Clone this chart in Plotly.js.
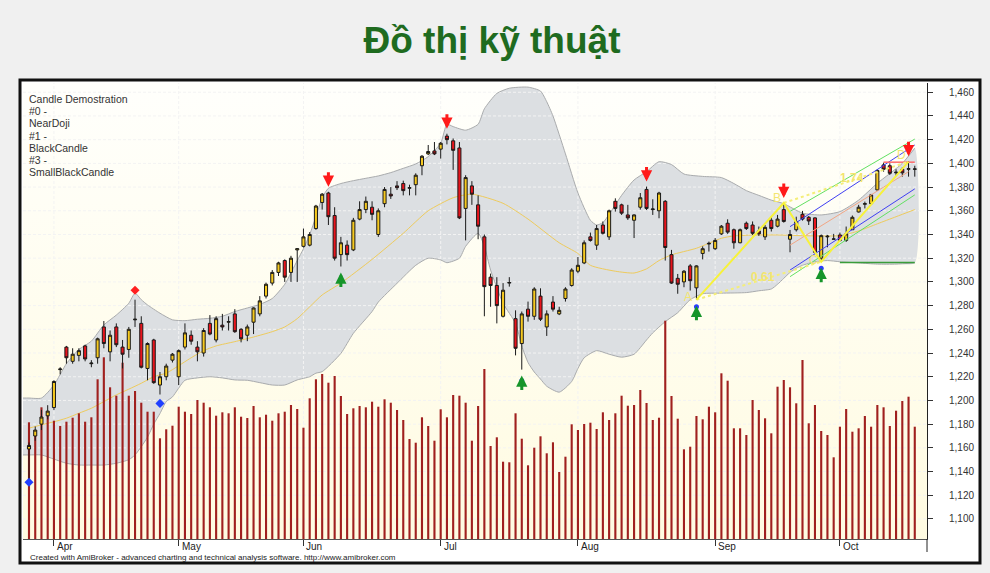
<!DOCTYPE html>
<html><head><meta charset="utf-8">
<script src="https://cdn.plot.ly/plotly-3.0.1.min.js"></script>
<style>html,body{margin:0;padding:0;background:#f0f0f0;}#chart{width:990px;height:573px;}</style>
</head><body><div id="chart"></div>
<script>
// ---- price data (daily candles) ----
const openP = [1159,1170,1180,1187,1194,1226,1245,1233,1238,1246,
 1231,1236,1262,1241,1262,1245,1243,1268,1265,1227,
 1251,1213,1220,1234,1220,1245,1255,1245,1240,1265,
 1251,1263.5,1266,1273,1260,1255,1266,1273,1288,1299,
 1308,1318,1308,1327,1330,1331,1345,1367,1375,1356,
 1323,1331,1327,1353,1361,1363,1340,1366,1374,1381,
 1383,1379,1382,1398,1408,1410.5,1412,1423,1419,1413,
 1362,1381,1365,1338,1304,1297,1271,1299,1269,1248,
 1277,1271,1288,1262,1283,1273,1286,1297,1309,1316,
 1338,1331,1348,1338,1368,1365,1356.5,1352,1363,1378,
 1361,1360,1368,1323,1303,1300,1313.5,1295,1324,1332,
 1328,1340.5,1349.5,1344,1333,1349.5,1348,1343,1338,1352,
 1347,1361,1336,1344,1357,1354.5,1354,1320,1338,1336,
 1339.6,1335,1344,1359,1365.5,1366,1377.6,1398.7,1398,1392,
 1395,1395,1395];
const highP = [1164.5,1178,1192,1196,1217,1228,1246,1244,1244,1247,
 1234,1253,1267,1259,1265,1251,1262,1285,1271,1249,
 1252,1224,1231,1240,1243,1265,1259,1250,1261,1272,
 1271,1273,1271,1277,1261,1264,1278.5,1288,1299.4,1310,
 1317,1319,1322,1328.5,1345,1342,1365,1375,1376,1363,
 1338,1335,1354,1368,1372,1368,1362,1380,1380,1385,
 1385.4,1382,1391.6,1407,1415.5,1418,1418,1425,1421,1418,
 1390,1385,1373,1340,1307,1304,1299,1304,1276,1275,
 1283.4,1295.5,1294.6,1276,1288,1279,1295.5,1311.5,1321,1335,
 1341.6,1348,1351,1361,1370.5,1366,1365,1357,1375,1380.4,
 1369.7,1376,1369,1327,1306.7,1310,1315,1314,1330,1334,
 1337,1348,1352.8,1345,1345,1350.9,1351,1346.7,1348,1355,
 1356.5,1366.6,1343.8,1355,1359.9,1355.6,1354.5,1340,1339.6,1340.5,
 1341.6,1346.7,1356,1365,1367.7,1374.2,1395,1400.6,1400,1395,
 1396.7,1401.7,1398];
const lowP = [1133,1166,1175,1184,1192,1222,1231,1231,1233,1233,
 1228,1231,1244,1233,1245,1227,1236,1262,1227,1217,
 1214,1205,1217,1232,1213,1243,1247,1233,1237,1255,
 1249,1259,1259,1257,1249,1250,1256,1271,1286,1297,
 1305,1300,1300,1300,1329,1330,1344,1361,1348,1318,
 1313,1318,1326,1352,1358,1352,1338,1363,1370,1377.5,
 1373,1373,1373,1390,1407,1407,1404,1416,1394.5,1353,
 1335,1365,1336,1271,1279,1265,1270,1296,1238,1226,
 1266.5,1268,1267,1254.4,1275,1272,1283.4,1296,1307.3,1315,
 1334,1327,1340,1335.4,1359.3,1356.5,1352.3,1337,1361,1360.7,
 1356.5,1353.7,1318,1298.3,1290,1295.5,1292.7,1285,1319,1325.6,
 1327,1339.6,1340.5,1328,1332.6,1343.8,1339.6,1338.8,1335.4,1342.5,
 1346,1350,1325,1342.5,1351.7,1348,1324,1317,1329.2,1335.8,
 1334,1333.7,1343.8,1358.5,1362,1365.5,1377,1393,1390.2,1389.4,
 1388.8,1388.8,1388.8];
const closeP = [1162,1175,1186,1191,1216,1226.5,1236,1239,1242,1235,
 1231.5,1252,1248,1255,1247,1239,1260,1268.5,1228,1248,
 1215,1220,1229,1239,1242,1257,1250,1241,1259,1256,
 1269,1262,1266.5,1258,1252,1262,1278,1284,1298,1308,
 1316,1304,1320,1328,1338,1340,1364,1374,1355,1320,
 1333,1323,1352,1361,1368,1357,1360,1378,1372.5,1379.5,
 1377,1379.5,1390,1406,1410,1408,1417,1420,1411,1354,
 1388,1374,1347,1296,1297,1280,1293,1299.5,1244,1273,
 1271,1294,1268.5,1273,1277,1276,1294,1310,1314,1333,
 1335,1345,1341,1360,1362,1358,1354,1356.5,1371,1362,
 1361.5,1375,1329,1299,1298,1309,1301,1313.5,1328,1332.5,
 1335,1347,1342,1333,1344,1345,1341,1340.5,1346,1345,
 1353,1351,1340,1351,1353,1351.4,1325,1339,1338.5,1336.2,
 1335,1340.5,1354.5,1363,1366,1373.4,1394,1395,1391.6,1392.5,
 1392,1395.5,1395.3];
// volume (relative units)
const volume = [116.7,109,131.7,128,118.3,113,117.3,121.3,125.7,117.3,
 121.7,159.7,181.7,151.7,143.3,176.3,143.3,148,136.3,127.3,
 127.3,100.7,109.7,113.3,132.3,127.3,125,139,136.3,131.7,
 123.3,126.7,125.7,131.7,122.3,121,133,121.7,124.3,118.3,
 125.7,127.3,134,130,111.3,140.7,159.7,165,156.3,163,
 143,125,130.7,133,131.7,137.3,132.3,139.7,136.3,129,
 119,100,96.3,121.7,113,98.3,129.7,121.7,144,143.3,
 136.3,98.3,133,170,93,101.7,77.3,76.7,125.7,100.3,
 73.7,91.3,102.7,85.7,96.7,67,82.3,114.7,109,115,
 116.3,110,126.7,119,125.7,143.3,133.3,134,149,136,
 119,121.3,218.3,143,120.3,89.7,92.3,123,119.7,132.3,
 126.7,165.7,158.3,110.7,110.7,104,139,129,120.7,105.7,
 152.3,159,151.7,135.7,179,115.7,134,108,104,81.7,
 112.3,130,107.3,110.7,123,112.3,134,131.7,113,128.3,
 138,142.3,112.3];

// ---- axis ticks ----
const monthIdx = [4,24,44,66,88,110,130];
const monthLabels = ['Apr','May','Jun','Jul','Aug','Sep','Oct'];
const yTickVals = [1100,1120,1140,1160,1180,1200,1220,1240,1260,1280,1300,1320,1340,1360,1380,1400,1420,1440,1460];

// ---- Bollinger band & moving average ----
const upIdx = [-1,0,2,4,6,8,10,12,14,16, 17,18,19,21,23,25,27,29,31,33, 35,37,39,41,43,44,45,46,47,48,
 50,52,54,56,58,60,62,64,66,67, 68,70,72,73,75,77,80,82,83,84, 86,88,90,91,92,93,94,95,97,99,
 101,103,105,108,111,113,115,117,119,121, 124,127,130,133,136,140,142];
const upVal = [1202,1202,1202,1213,1231,1243,1250,1263.7,1272,1282, 1290.5,1285,1280.6,1273.6,1268,1267.3,1268.5,1269.3,1271,1275,
 1278,1281,1286,1298,1318,1328,1340,1355,1371,1379, 1383,1385.4,1387.4,1389.4,1392.2,1395.8,1399.5,1405.7,1417,1433,
 1431,1428,1433,1446,1459,1463.4,1464.3,1461,1452,1440, 1408,1375,1352,1348,1350,1357,1365,1373,1386,1393,
 1401.4,1399,1391,1389,1388,1383,1377,1373,1369,1366, 1358,1356.5,1359.3,1369,1383.2,1400,1412.8];
const loIdx = [-1,0,2,4,6,8,10,12,14,16, 17,18,19,20,21,22,23,25,27,29, 31,33,35,37,39,41,43,45,46,47,
 50,52,55,56,59,62,64,66,67,69, 70,72,73,74,76,78,79,80,81,82, 83,85,87,88,89,91,93,95,97,99,
 100,102,104,106,108,111,115,117,119,120, 121,122,123,124,126,128,130,133,136,139, 142];
const loVal = [1154,1154,1154,1150.5,1147,1145.5,1145.5,1145.5,1147,1150, 1154,1161,1169,1180,1189,1199,1203,1217,1219,1220,
 1219,1217.3,1217,1215,1213,1213,1217.3,1220,1223,1224.3, 1239.7,1256.6,1275,1283,1298.8,1314,1320,1318.5,1316.2,1320,
 1330,1341,1330,1310,1282,1265,1246,1232,1224,1218, 1212,1207,1216,1227,1236,1242,1239,1236.5,1239,1251,
 1257,1266.5,1274,1285,1290,1290.5,1291,1292.5,1294,1298, 1303,1308,1311.5,1314,1317,1318,1317,1316,1315,1315, 1316];
const maIdx = [0,2,4,6,8,10,12,14,16,18, 20,22,23,26,28,30,33,36,39,41, 43,45,47,50,55,60,64,68,71,76,
 80,85,88,90,94,97,99,101,103,107, 111,113,116,120,124,130,133,136,139,142];
const maVal = [1176.6,1179.4,1182,1185,1189.2,1193.4,1199,1204.7,1209.5,1214.5, 1220,1223,1226,1236,1242,1246,1249.6,1253.5,1258,1262,
 1269,1279,1289,1299,1319,1341,1360,1371,1374,1366.3, 1353,1333,1324,1314,1309,1307.5,1311,1318,1322.8,1328.4,
 1336.8,1338.8,1339.5,1339.6,1339,1339,1343,1349,1355,1361];

// ---- signals ----
const sellIdx = [48,67,99,121,141];
const buyIdx = [50,79,107,127];
const buyDotIdx = [79,107,127], buyDotPrice = [1216.6,1279,1311.5];
const redDiamondIdx = [17], redDiamondPrice = [1293];
const blueDiamondIdx = [0,21], blueDiamondPrice = [1131,1197.5];

// ---- pattern drawing (right side) ----
const zigIdx = [107,121,127,141], zigPrice = [1285,1366.6,1317,1401.5];
const zigLetters = ['A','B','C','D'];
const letterIdx = [105.7,119.9,125.7,139.8], letterPrice = [1287,1370.6,1318.5,1407];
const fibIdx = [117.7,131.9], fibPrice = [1304,1388], fibText = ['0.61','1.74'];
const chanIdx = [122,142];
const blueUpper = [1346.6,1415.5], blueLower = [1310,1378.5];
const greenUpper = [1359.5,1420.5], greenLower = [1304.4,1373.4];
const salmonIdx = [122,141], salmonPrice = [1331,1393];
const redLevelIdx = [137,142], redLevelPrice = [1401,1401];
const greenLevelIdx = [130,142], greenLevelPrice = [1316.3,1316.3];

const legendLines = ['Candle Demostration','#0 -','NearDoji','#1 -','BlackCandle','#3 -','SmallBlackCandle'];

// ---------------------------------------------------------------
const X = openP.map((_, i) => i);
const xRange = [-0.96, 143.96];
const yRange = [1083.1, 1467.8];
const FONT = 'Liberation Sans, Arial, sans-serif';

const bandX = upIdx.concat(loIdx.slice().reverse());
const bandY = upVal.concat(loVal.slice().reverse());

const gx = [], gy = [];
yTickVals.forEach(v => { gx.push(xRange[0], xRange[1], null); gy.push(v, v, null); });
monthIdx.forEach(m => { gx.push(m, m, null); gy.push(yRange[0], yRange[1], null); });

const line = (x, y, color, width, dash, shape, yaxis) => ({type:'scatter', mode:'lines', x, y, hoverinfo:'skip',
  yaxis: yaxis || 'y', line:{color, width, dash: dash || 'solid', shape: shape || 'linear', smoothing: 0.6}});

const traces = [
  // main layer: band, grid, indicator lines
  {type:'scatter', mode:'lines', x:bandX, y:bandY, fill:'toself', fillcolor:'#dcdfe2',
   line:{width:0, shape:'spline', smoothing:0.6}, hoverinfo:'skip'},
  line(gx, gy, '#f3f3f3', 1, '3px,2px'),
  line(upIdx, upVal, '#a9abad', 1, 'solid', 'spline'),
  line(loIdx, loVal, '#a9abad', 1, 'solid', 'spline'),
  line(maIdx, maVal, '#eecb5c', 1, 'solid', 'spline'),
  // volume layer
  {type:'bar', x:X, y:volume, yaxis:'y2', width:0.34, hoverinfo:'skip',
   marker:{color:'#a0201f', line:{width:0}}},
  // candle layer
  {type:'candlestick', x:X, open:openP, high:highP, low:lowP, close:closeP, hoverinfo:'skip', yaxis:'y3',
   whiskerwidth:0,
   increasing:{line:{color:'#1a1a1a', width:1}, fillcolor:'#f6c91f'},
   decreasing:{line:{color:'#1a1a1a', width:1}, fillcolor:'#e8141c'}},
  line(salmonIdx, salmonPrice, '#f2a684', 1, 'solid', 'linear', 'y3'),
  line(chanIdx, greenUpper, '#62e062', 1, 'solid', 'linear', 'y3'),
  line(chanIdx, greenLower, '#62e062', 1, 'solid', 'linear', 'y3'),
  line(chanIdx, blueUpper, '#3f3ff2', 1, 'solid', 'linear', 'y3'),
  line(chanIdx, blueLower, '#3f3ff2', 1, 'solid', 'linear', 'y3'),
  line(redLevelIdx, redLevelPrice, '#ff6a6a', 1.5, 'solid', 'linear', 'y3'),
  line(greenLevelIdx, greenLevelPrice, '#3a9d3a', 1.5, 'solid', 'linear', 'y3'),
  line([zigIdx[0], zigIdx[2]], [zigPrice[0], zigPrice[2]], '#f4ee7a', 2, 'dot', 'linear', 'y3'),
  line([zigIdx[1], zigIdx[3]], [zigPrice[1], zigPrice[3]], '#f4ee7a', 2, 'dot', 'linear', 'y3'),
  line(zigIdx, zigPrice, '#f7f23a', 2, 'solid', 'linear', 'y3'),
  {type:'scatter', mode:'markers', x:redDiamondIdx, y:redDiamondPrice, hoverinfo:'skip', yaxis:'y3',
   marker:{symbol:'diamond', size:7, color:'#ff2020'}},
  {type:'scatter', mode:'markers', x:blueDiamondIdx, y:blueDiamondPrice, hoverinfo:'skip', yaxis:'y3',
   marker:{symbol:'diamond', size:7, color:'#2040ff'}},
];

const annotations = [];
sellIdx.forEach(i => annotations.push({x:i, y:highP[i], xref:'x', yref:'y', text:'', showarrow:true,
  arrowhead:2, arrowsize:0.75, arrowwidth:3, arrowcolor:'#ff1a1a', ax:0, ay:-21, standoff:5}));
buyIdx.forEach(i => annotations.push({x:i, y:lowP[i], xref:'x', yref:'y', text:'', showarrow:true,
  arrowhead:2, arrowsize:0.75, arrowwidth:3, arrowcolor:'#16952a', ax:0, ay:22, standoff:6}));
zigLetters.forEach((t, k) => annotations.push({x:letterIdx[k], y:letterPrice[k], xref:'x', yref:'y', text:t,
  showarrow:false, font:{family:FONT, size:12, color:'#f3e56f'}}));
fibText.forEach((t, k) => annotations.push({x:fibIdx[k], y:fibPrice[k], xref:'x', yref:'y', text:'<b>'+t+'</b>',
  showarrow:false, font:{family:FONT, size:12, color:'#f3e56f'}}));
monthLabels.forEach((t, k) => annotations.push({x:monthIdx[k], xref:'x', y:(539-546)/456, yref:'paper', text:t,
  xanchor:'left', yanchor:'middle', xshift:1, showarrow:false, font:{family:FONT, size:10, color:'#222'}}));
legendLines.forEach((t, k) => annotations.push({x:(27-23)/904, xref:'paper', y:(539-(99.4+12.05*k))/456, yref:'paper',
  text:t, xanchor:'left', yanchor:'middle', showarrow:false, font:{family:FONT, size:10.5, color:'#333'}}));
annotations.push({x:(28-23)/904, xref:'paper', y:(539-557)/456, yref:'paper',
  text:'Created with AmiBroker - advanced charting and technical analysis software. http://www.amibroker.com',
  xanchor:'left', yanchor:'middle', showarrow:false, font:{family:FONT, size:8, color:'#222'}});

// blue dots at the tips of some buy arrows (drawn as a trace on top)
traces.push({type:'scatter', mode:'markers', x:buyDotIdx, y:buyDotPrice, hoverinfo:'skip', yaxis:'y3',
  marker:{symbol:'circle', size:5, color:'#2a3cff'}});

const gradSvg = "<svg xmlns='http://www.w3.org/2000/svg' width='10' height='100' viewBox='0 0 10 100' preserveAspectRatio='none'><defs><linearGradient id='g' x1='0' y1='0' x2='0' y2='1'><stop offset='0' stop-color='#fffffc'/><stop offset='1' stop-color='#fffbe1'/></linearGradient></defs><rect width='10' height='100' fill='url(#g)'/></svg>";
const gradUri = 'data:image/svg+xml;charset=utf-8,' + encodeURIComponent(gradSvg);

const fx0 = (20-23)/904, fx1 = (980-23)/904, fy0 = (539-563)/456, fy1 = (539-80)/456;

const layout = {
  width:990, height:573,
  paper_bgcolor:'#f0f0f0', plot_bgcolor:'#fffdf0',
  margin:{l:23, r:63, t:83, b:34, pad:0},
  showlegend:false, hovermode:false,
  title:{text:'<b>Đồ thị kỹ thuật</b>', font:{family:FONT, size:37, color:'#1f6b1f'},
         x:492/990, xanchor:'center', xref:'container', y:1-40/573, yanchor:'middle'},
  xaxis:{range:xRange, showgrid:false, zeroline:false, showline:true, linecolor:'#555', linewidth:1,
         ticks:'outside', ticklen:6, tickcolor:'#333', tickvals:monthIdx, showticklabels:false,
         rangeslider:{visible:false}, fixedrange:true},
  yaxis:{range:yRange, side:'right', showgrid:false, zeroline:false, showline:true, linecolor:'#222', linewidth:1,
         ticks:'outside', ticklen:5, tickcolor:'#333', tickvals:yTickVals, tickformat:',d',
         ticklabelstandoff:14, tickfont:{family:FONT, size:10, color:'#333'}, fixedrange:true},
  yaxis2:{range:[0,456], overlaying:'y', visible:false, fixedrange:true},
  yaxis3:{range:yRange, overlaying:'y', visible:false, fixedrange:true},
  images:[{source:gradUri, xref:'x', yref:'y', x:xRange[0], y:yRange[1], sizex:xRange[1]-xRange[0],
           sizey:yRange[1]-yRange[0], xanchor:'left', yanchor:'top', sizing:'stretch', layer:'below'}],
  shapes:[
    {type:'rect', xref:'paper', yref:'paper', x0:fx0, x1:fx1, y0:fy0, y1:fy1, fillcolor:'#ffffff', line:{width:0}, layer:'below'},
    {type:'rect', xref:'paper', yref:'paper', x0:fx0, x1:fx1, y0:fy0, y1:fy1, fillcolor:'rgba(0,0,0,0)', line:{color:'#111', width:3}, layer:'above'},
    {type:'line', xref:'paper', yref:'paper', x0:1, x1:1, y0:(539-552)/456, y1:0, line:{color:'#222', width:1}}
  ],
  annotations
};

Plotly.newPlot('chart', traces, layout, {staticPlot:true, displayModeBar:false});
</script>
</body></html>
